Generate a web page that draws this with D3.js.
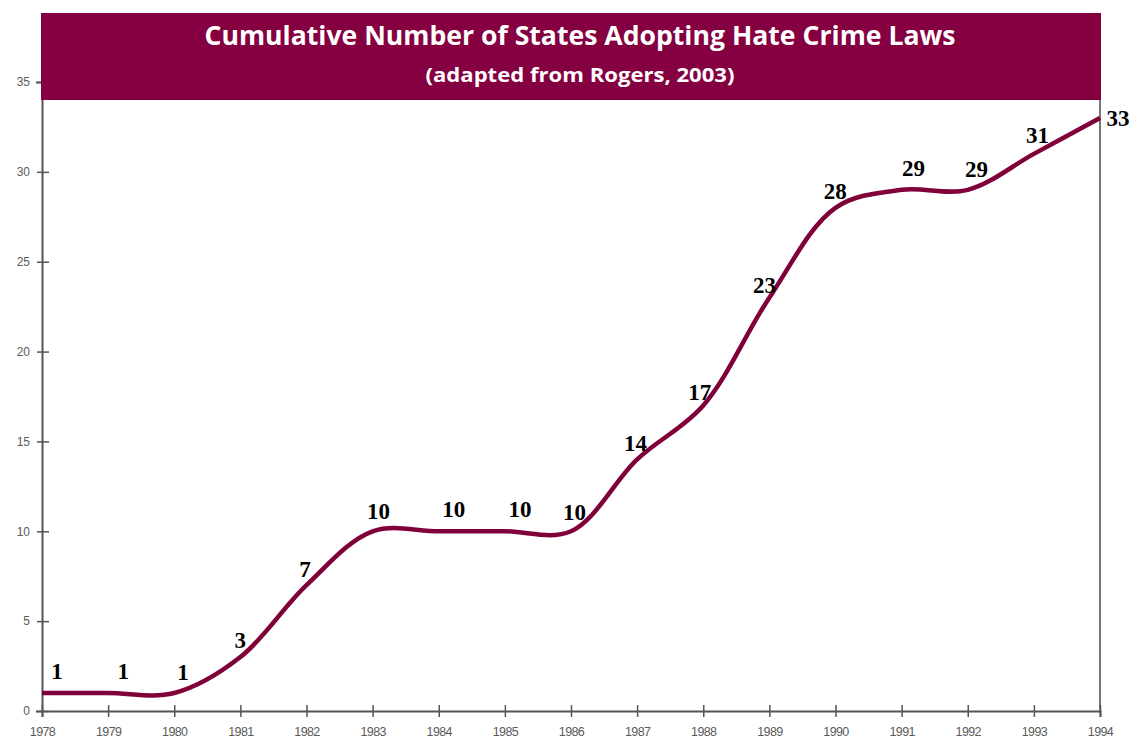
<!DOCTYPE html>
<html>
<head>
<meta charset="utf-8">
<script src="https://cdn.jsdelivr.net/npm/d3@7"></script>
<style>
body { margin: 0; background: #fff; }
</style>
</head>
<body>
<script>
// chart data
var years = [1978,1979,1980,1981,1982,1983,1984,1985,1986,1987,1988,1989,1990,1991,1992,1993,1994];
var states = [1,1,1,3,7,10,10,10,10,14,17,23,28,29,29,31,33];
var yTicks = [0,5,10,15,20,25,30,35];
var title = "Cumulative Number of States Adopting Hate Crime Laws";
var subtitle = "(adapted from Rogers, 2003)";

function drawChart()
{
    var width = 1139;
    var height = 742;
    var left = 42, right = 1100, top = 82, bottom = 711;

    var svg = d3.select("body").append("svg")
            .attr("width", width)
            .attr("height", height);

    var x = d3.scaleLinear().domain([1978, 1994]).range([left, right]);
    var y = d3.scaleLinear().domain([0, 35]).range([bottom, top]);

    // right frame line
    svg.append("line")
       .attr("x1", right).attr("x2", right)
       .attr("y1", top).attr("y2", bottom)
       .attr("stroke", "#777").attr("stroke-width", 2);

    // y axis
    var yAxis = svg.append("g")
       .attr("transform", "translate(" + left + ",0)")
       .call(d3.axisLeft(y).tickValues(yTicks).tickSize(6).tickPadding(6));
    yAxis.select(".domain").attr("stroke", "#555").attr("stroke-width", 2);
    yAxis.selectAll(".tick line").attr("x2", 7).attr("x1", -5).attr("stroke", "#555").attr("stroke-width", 1.5);
    yAxis.selectAll(".tick text")
         .attr("x", -12)
         .attr("fill", "#5a5a5a")
         .style("font-family", "Arial, 'Liberation Sans', sans-serif")
         .style("font-size", "12px");

    // x axis
    var xAxis = svg.append("g")
       .attr("transform", "translate(0," + bottom + ")")
       .call(d3.axisBottom(x).tickValues(years).tickFormat(d3.format("d")).tickSize(6).tickPadding(10));
    xAxis.select(".domain").attr("stroke", "#555").attr("stroke-width", 2);
    xAxis.selectAll(".tick line").attr("y1", -6).attr("y2", 6).attr("stroke", "#555").attr("stroke-width", 1.5);
    xAxis.selectAll(".tick text")
         .attr("fill", "#5a5a5a")
         .style("font-family", "Arial, 'Liberation Sans', sans-serif")
         .style("font-size", "12.5px")
         .style("letter-spacing", "-0.6px");

    var data = years.map(function(d, i) { return {year: d, value: states[i]}; });
    var n = data.length;

    // smoothed line
    var line = d3.line()
        .x(function(d) { return x(d.year); })
        .y(function(d) { return y(d.value); })
        .curve(d3.curveCatmullRom.alpha(0.5));

    svg.append("path")
       .datum(data)
       .attr("d", line)
       .attr("fill", "none")
       .attr("stroke", "#80003a")
       .attr("stroke-width", 4.5);

    // label position: pushed off the curve along its local normal
    function labelPos(d, i)
    {
        var px = x(d.year), py = y(d.value);
        if (i == n - 1) return [px + 18, py];
        var a = data[Math.max(i - 1, 0)], b = data[Math.min(i + 1, n - 1)];
        var dx = x(b.year) - x(a.year), dy = y(b.value) - y(a.value);
        var len = Math.sqrt(dx * dx + dy * dy);
        return [px + dy / len * 24 + 15, py - dx / len * 22];
    }

    // value labels
    svg.selectAll("text.val")
       .data(data)
       .enter()
       .append("text")
       .attr("class", "val")
       .attr("x", function(d, i) { return labelPos(d, i)[0]; })
       .attr("y", function(d, i) { return labelPos(d, i)[1] + 8; })
       .attr("text-anchor", "middle")
       .style("font-family", "'Liberation Serif', 'Times New Roman', serif")
       .style("font-weight", "bold")
       .style("font-size", "23px")
       .attr("fill", "#000")
       .text(function(d) { return d.value; });

    // title box
    svg.append("rect")
       .attr("x", 41).attr("y", 13)
       .attr("width", 1060).attr("height", 87)
       .attr("fill", "#850040");

    svg.append("text")
       .attr("x", 580).attr("y", 45)
       .attr("text-anchor", "middle")
       .attr("fill", "#fff")
       .style("font-family", "'Open Sans', sans-serif")
       .style("font-weight", "bold")
       .style("font-size", "27px")
       .attr("textLength", 751)
       .attr("lengthAdjust", "spacingAndGlyphs")
       .text(title);

    svg.append("text")
       .attr("x", 580).attr("y", 82)
       .attr("text-anchor", "middle")
       .attr("fill", "#fff")
       .style("font-family", "'Open Sans', sans-serif")
       .style("font-weight", "bold")
       .style("font-size", "20px")
       .attr("textLength", 309)
       .attr("lengthAdjust", "spacingAndGlyphs")
       .text(subtitle);
}
window.onload = drawChart;
</script>
</body>
</html>
